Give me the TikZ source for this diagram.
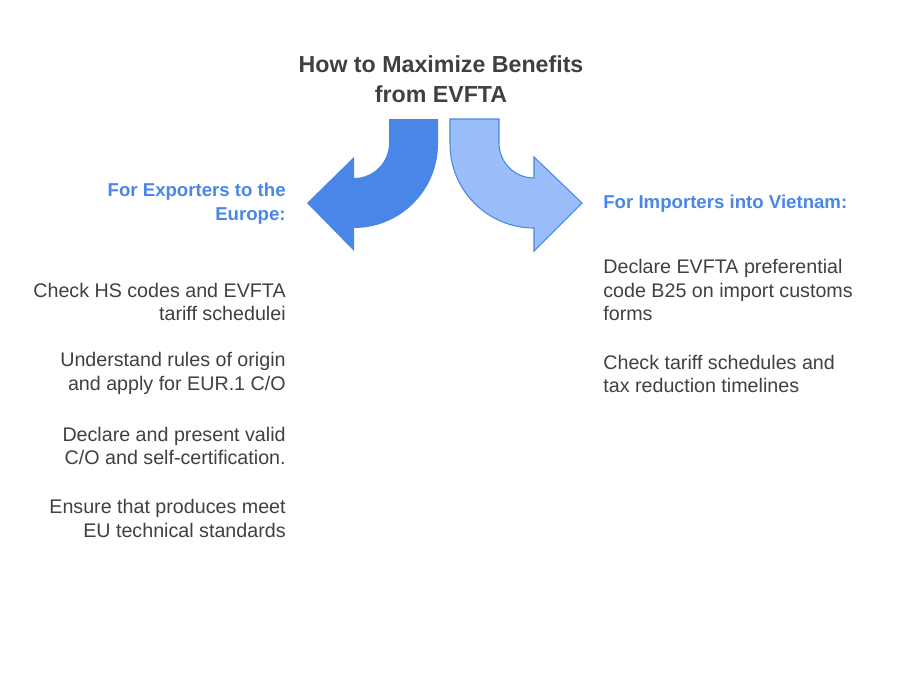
\documentclass[tikz,border=0pt]{standalone}
\usepackage{fontspec}
\setmainfont{Liberation Sans}
\definecolor{evfta_dark}{RGB}{64, 64, 64}
\definecolor{evfta_blue}{RGB}{74, 134, 232}
\definecolor{evfta_light}{RGB}{153, 190, 250}
\usetikzlibrary{positioning}
\begin{document}
\begin{tikzpicture}[x=0.02cm, y=-0.02cm,
    body/.style={font=\fontsize{11.2}{13.6}\selectfont, text=evfta_dark, inner sep=0pt},
    head/.style={font=\fontsize{10.6}{13.6}\selectfont\bfseries, text=evfta_blue, inner sep=0pt}]
  \useasboundingbox (0,0) rectangle (901,698);
  % title
  \node[font=\fontsize{13.2}{17}\selectfont\bfseries, text=evfta_dark, align=center] (title) at (441,79)
    {How to Maximize Benefits\\from EVFTA};
  % arrows
  \fill[evfta_blue] (389,119) -- (438,119) -- (438,144) arc[start angle=0, end angle=90, radius=84]
    -- (354,251) -- (307,203) -- (354,157) -- (354,178) arc[start angle=90, end angle=0, radius=35] -- cycle;
  \filldraw[fill=evfta_light, draw=evfta_blue, line width=0.6pt]
    (499,119) -- (450,119) -- (450,144) arc[start angle=180, end angle=90, radius=84]
    -- (534,251) -- (582,203) -- (534,157) -- (534,178) arc[start angle=90, end angle=180, radius=35] -- cycle;
  % exporters
  \node[head, align=right, anchor=east] (exphead) at (286,204) {For Exporters to the\\Europe:};
  \node[body, align=right, anchor=east] (exp1) at (286,302) {Check HS codes and EVFTA\\tariff schedulei};
  \node[body, align=right, anchor=east] (exp2) at (286,373) {Understand rules of origin\\and apply for EUR.1 C/O};
  \node[body, align=right, anchor=east] (exp3) at (286,446) {Declare and present valid\\C/O and self-certification.};
  \node[body, align=right, anchor=east] (exp4) at (286,518) {Ensure that produces meet\\EU technical standards};
  % importers
  \node[head, align=left, anchor=west] (imphead) at (603,204) {For Importers into Vietnam:};
  \node[body, align=left, anchor=west] (imp1) at (603,290) {Declare EVFTA preferential\\code B25 on import customs\\forms};
  \node[body, align=left, anchor=west] (imp2) at (603,374) {Check tariff schedules and\\tax reduction timelines};
\end{tikzpicture}
\end{document}
